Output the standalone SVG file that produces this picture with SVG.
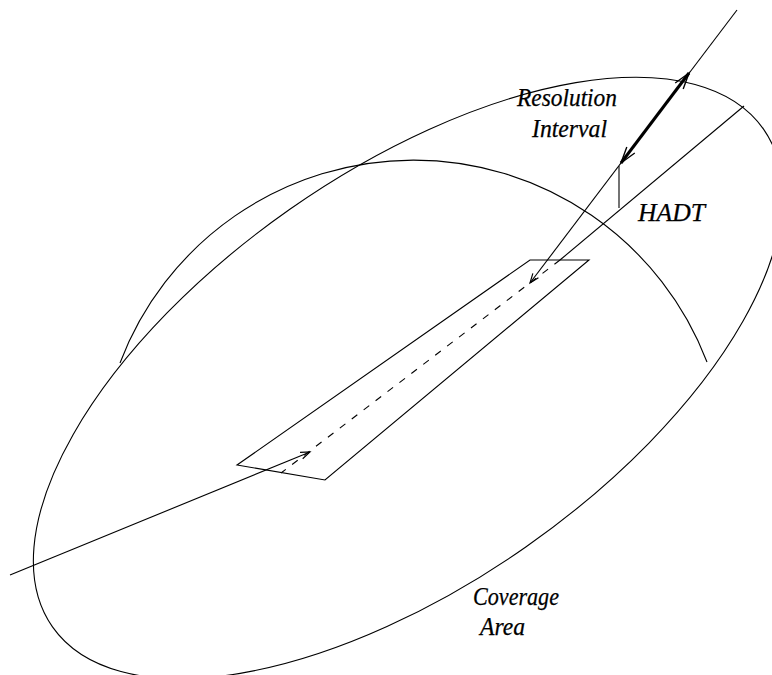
<svg xmlns="http://www.w3.org/2000/svg" width="772" height="675" viewBox="0 0 772 675">
<style>
.ln{fill:none;stroke:#000;stroke-width:1.1;stroke-linecap:butt}
.thick{fill:none;stroke:#000;stroke-width:3}
.lbl{font-family:"Liberation Serif","Times New Roman",serif;font-style:italic;font-size:25px;fill:#000;stroke:#000;stroke-width:0.25}
</style>
<defs>
<marker id="ah" markerUnits="userSpaceOnUse" markerWidth="20" markerHeight="20" refX="0" refY="0" viewBox="-14 -7 16 14" orient="auto-start-reverse" overflow="visible">
<path d="M -13 -4 L 0 0 L -13 4" fill="none" stroke="#000" stroke-width="1.1"/>
</marker>
<marker id="ahs" markerUnits="userSpaceOnUse" markerWidth="14" markerHeight="14" refX="0" refY="0" viewBox="-10 -5 12 10" orient="auto" overflow="visible">
<path d="M -8 -3 L 0 0 L -8 3" fill="none" stroke="#000" stroke-width="1"/>
</marker>
</defs>
<rect width="772" height="675" fill="#fff"/>
<g id="coverage-area">
<ellipse class="ln" cx="408" cy="378" rx="434" ry="206" transform="rotate(-35 408 378)"/>
</g>
<g id="beam-arc">
<path class="ln" d="M 120 363 A 314 314 0 0 1 707 362"/>
</g>
<g id="resolution-cell">
<polygon class="ln" points="530,260 589,260 325,480 237,465"/>
</g>
<g id="connectors">
<line class="ln" x1="10" y1="575" x2="310" y2="452" marker-end="url(#ahs)"/>
<line class="ln" x1="737" y1="10" x2="530" y2="283" marker-end="url(#ahs)"/>
<line class="ln" x1="744" y1="106" x2="560" y2="260"/>
<line class="ln" x1="560" y1="260" x2="281" y2="473" stroke-dasharray="7 8"/>
<line class="thick" x1="621" y1="163" x2="689" y2="73" marker-start="url(#ah)" marker-end="url(#ah)"/>
<line class="ln" x1="619" y1="166" x2="619" y2="208"/>
</g>
<g id="labels">
<text class="lbl" x="517" y="106" textLength="100" lengthAdjust="spacingAndGlyphs">Resolution</text>
<text class="lbl" x="532" y="137" textLength="75" lengthAdjust="spacingAndGlyphs">Interval</text>
<text class="lbl" x="638" y="221" textLength="67" lengthAdjust="spacingAndGlyphs">HADT</text>
<text class="lbl" x="473" y="605" textLength="86" lengthAdjust="spacingAndGlyphs">Coverage</text>
<text class="lbl" x="480" y="635" textLength="45" lengthAdjust="spacingAndGlyphs">Area</text>
</g>
</svg>
